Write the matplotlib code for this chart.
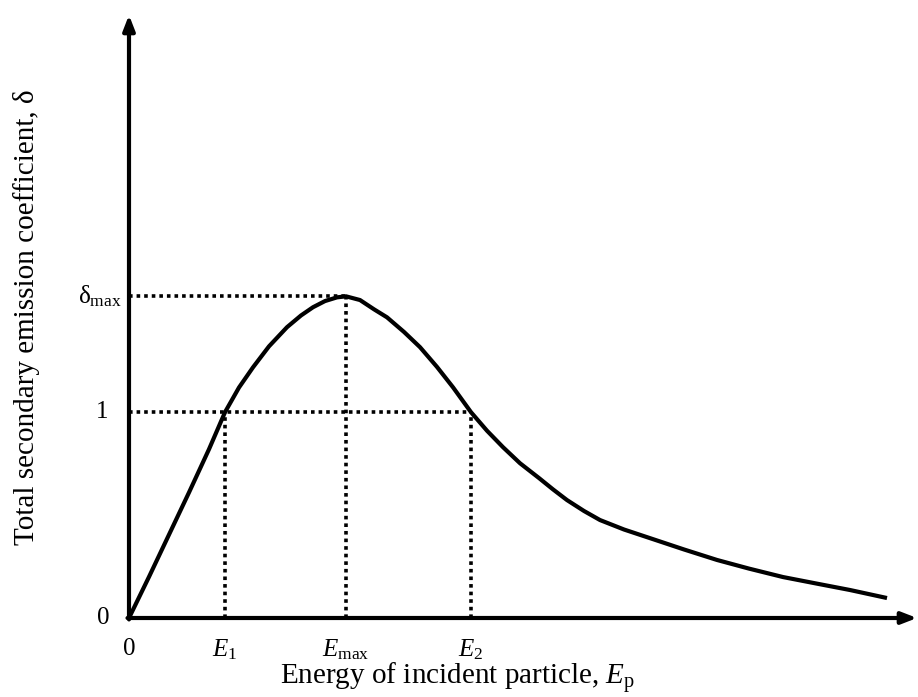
import matplotlib.pyplot as plt
import numpy as np

plt.rcParams['font.family'] = ['Liberation Serif', 'DejaVu Serif']
plt.rcParams['mathtext.fontset'] = 'custom'
plt.rcParams['mathtext.rm'] = 'Liberation Serif'
plt.rcParams['mathtext.it'] = 'Liberation Serif:italic'

# curve (arbitrary units)
energy = [0.0, 0.2, 0.4, 0.6, 0.8, 0.96, 1.1, 1.24, 1.4, 1.58, 1.72, 1.84, 1.96,
          2.08, 2.17, 2.31, 2.45, 2.58, 2.75, 2.91, 3.08, 3.24, 3.42, 3.58, 3.74,
          3.91, 4.1, 4.24, 4.38, 4.55, 4.71, 4.95, 5.21, 5.55, 5.88, 6.2, 6.54,
          6.9, 7.21, 7.58]
delta = [0.0, 0.2, 0.405, 0.61, 0.82, 1.0, 1.12, 1.218, 1.32, 1.413, 1.47, 1.51, 1.54,
         1.558, 1.563, 1.545, 1.50, 1.461, 1.39, 1.316, 1.22, 1.121, 1.0, 0.91, 0.83,
         0.752, 0.68, 0.625, 0.573, 0.52, 0.476, 0.43, 0.388, 0.333, 0.282, 0.24, 0.199,
         0.165, 0.136, 0.097]

E1, Emax, E2 = 0.96, 2.17, 3.42
delta_max = 1.563
x_end, y_end = 7.88, 2.93

x_ticks = [0, E1, Emax, E2]
x_labels = ['0', r'$E_{\mathrm{1}}$', r'$E_{\mathrm{max}}$', r'$E_{\mathrm{2}}$']
y_ticks = [0, 1, delta_max]
y_labels = ['0', '1', r'$\mathrm{\delta}_{\mathrm{max}}$']
y_label_right = [-0.19, -0.21, -0.07]

fig = plt.figure(figsize=(9.18, 6.97), dpi=100)
ax = fig.add_axes([129 / 918, 79 / 697, 788 / 918, 603 / 697])
ax.set_xlim(0, x_end)
ax.set_ylim(0, y_end)
ax.axis('off')

# dotted guide lines
dot = dict(color='k', lw=2.6, linestyle=(0, (1, 1.1)), dash_capstyle='butt')
ax.plot([0, Emax], [delta_max, delta_max], **dot)
ax.plot([0, E2], [1, 1], **dot)
ax.plot([E1, E1], [0, 1], **dot)
ax.plot([Emax, Emax], [0, delta_max], **dot)
ax.plot([E2, E2], [0, 1], **dot)

ax.plot(energy, delta, color='k', lw=3, solid_joinstyle='round', solid_capstyle='butt')

# axes with arrows
arrow = dict(arrowstyle='-|>,head_length=0.9,head_width=0.35', color='k', lw=3,
             shrinkA=0, shrinkB=0)
ax.annotate('', xy=(x_end, 0), xytext=(-0.015, 0), arrowprops=arrow, annotation_clip=False)
ax.annotate('', xy=(0, y_end), xytext=(0, -0.007), arrowprops=arrow, annotation_clip=False)

for xv, lab in zip(x_ticks, x_labels):
    ax.text(xv, -0.095, lab, ha='center', va='top', fontsize=18, clip_on=False)
for yv, lab, xr in zip(y_ticks, y_labels, y_label_right):
    ax.text(xr, yv, lab, ha='right', va='center', fontsize=18, clip_on=False)

fig.text(458 / 918, 12 / 697, r'Energy of incident particle, $E_{\mathrm{p}}$',
         ha='center', va='baseline', fontsize=21)
fig.text(27 / 918, 380 / 697, 'Total secondary emission coefficient, δ',
         ha='center', va='center', rotation=90, fontsize=21)

plt.savefig('out.png', dpi=100)
